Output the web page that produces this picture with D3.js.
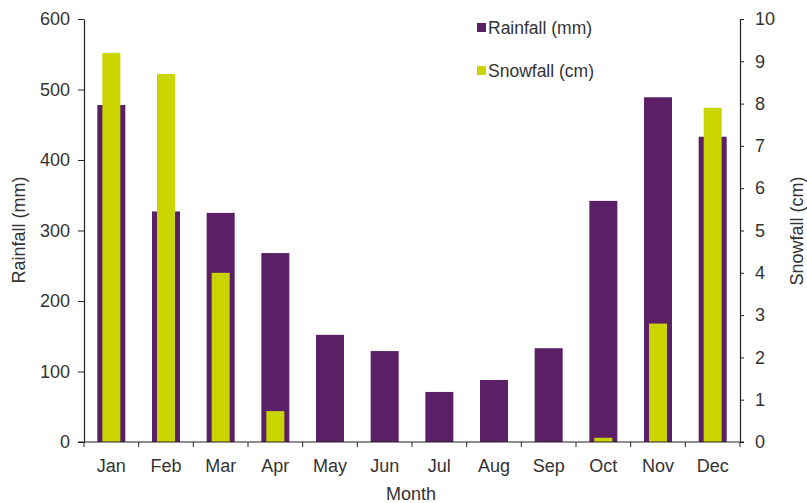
<!DOCTYPE html>
<html>
<head>
<meta charset="utf-8">
<script src="https://cdn.jsdelivr.net/npm/d3@7"></script>
<style>
  html, body { margin: 0; padding: 0; background: #fff; }
  svg text { font-family: "Liberation Sans", Arial, sans-serif; fill: #333; }
</style>
</head>
<body>
<svg id="chart" width="807" height="503"></svg>
<script>
// Monthly precipitation
const months = ["Jan","Feb","Mar","Apr","May","Jun","Jul","Aug","Sep","Oct","Nov","Dec"];
const rainfall = [478, 327, 325, 268, 152, 129, 71, 88, 133, 342, 489, 433];   // mm
const snowfall = [9.2, 8.7, 4.0, 0.73, 0, 0, 0, 0, 0, 0.1, 2.8, 7.9];         // cm
const rainTicks = [0, 100, 200, 300, 400, 500, 600];
const snowTicks = [0, 1, 2, 3, 4, 5, 6, 7, 8, 9, 10];

const rainColor = "#5b1f66";
const snowColor = "#cad500";
const fontSize = 18;

const svg = d3.select("#chart");
const plotL = 84, plotR = 740, plotT = 19, plotB = 442;

const x = d3.scaleBand().domain(months).range([plotL, plotR]).padding(0);
const yRain = d3.scaleLinear().domain([0, 600]).range([plotB, plotT]);
const ySnow = d3.scaleLinear().domain([0, 10]).range([plotB, plotT]);

const rainW = 28, snowW = 18;
const data = months.map((m, i) => ({ m, rain: rainfall[i], snow: snowfall[i] }));

// Rainfall bars (behind)
svg.append("g").selectAll("rect").data(data).join("rect")
  .attr("x", d => x(d.m) + x.bandwidth() / 2 - rainW / 2)
  .attr("width", rainW)
  .attr("y", d => yRain(d.rain))
  .attr("height", d => plotB - yRain(d.rain))
  .attr("fill", rainColor);

// Snowfall bars (in front, narrower)
svg.append("g").selectAll("rect").data(data.filter(d => d.snow > 0)).join("rect")
  .attr("x", d => x(d.m) + x.bandwidth() / 2 - snowW / 2)
  .attr("width", snowW)
  .attr("y", d => ySnow(d.snow))
  .attr("height", d => plotB - ySnow(d.snow))
  .attr("fill", snowColor);

// Axes
const axisStyle = g => {
  g.selectAll(".domain").attr("stroke", "#222").attr("stroke-width", 1.2);
  g.selectAll(".tick line").attr("stroke", "#222");
  g.selectAll(".tick text").attr("font-size", fontSize).attr("fill", "#333")
    .style("font-family", "'Liberation Sans', Arial, sans-serif");
};

svg.append("g").attr("transform", `translate(${plotL},0)`)
  .call(d3.axisLeft(yRain).tickValues(rainTicks).tickSize(6).tickSizeOuter(0).tickPadding(8))
  .call(axisStyle);

svg.append("g").attr("transform", `translate(${plotR},0)`)
  .call(d3.axisRight(ySnow).tickValues(snowTicks).tickSize(4).tickSizeOuter(0).tickPadding(11))
  .call(axisStyle);

// Category axis: ticks sit between months
const xAxis = svg.append("g").attr("transform", `translate(0,${plotB})`);
xAxis.append("line").attr("x1", plotL - 6).attr("x2", plotR + 4)
  .attr("y1", 0).attr("y2", 0).attr("stroke", "#222").attr("stroke-width", 1.2);
xAxis.selectAll("line.sep").data(d3.range(13)).join("line")
  .attr("class", "sep")
  .attr("x1", i => plotL + i * x.bandwidth()).attr("x2", i => plotL + i * x.bandwidth())
  .attr("y1", 0).attr("y2", 5).attr("stroke", "#222");
xAxis.selectAll("text").data(months).join("text")
  .attr("x", m => x(m) + x.bandwidth() / 2)
  .attr("y", 30)
  .attr("text-anchor", "middle")
  .attr("font-size", fontSize)
  .text(m => m);

// Axis titles
svg.append("text").attr("transform", "translate(25,230) rotate(-90)")
  .attr("text-anchor", "middle").attr("font-size", fontSize).text("Rainfall (mm)");
svg.append("text").attr("transform", "translate(803,231) rotate(-90)")
  .attr("text-anchor", "middle").attr("font-size", fontSize).text("Snowfall (cm)");
svg.append("text").attr("x", 411).attr("y", 500)
  .attr("text-anchor", "middle").attr("font-size", fontSize).text("Month");

// Legend
const legend = [
  { label: "Rainfall (mm)", color: rainColor, y: 34 },
  { label: "Snowfall (cm)", color: snowColor, y: 77 }
];
const lg = svg.append("g");
lg.selectAll("rect").data(legend).join("rect")
  .attr("x", 477).attr("y", d => d.y - 11).attr("width", 9).attr("height", 9)
  .attr("fill", d => d.color);
lg.selectAll("text").data(legend).join("text")
  .attr("x", 488).attr("y", d => d.y)
  .attr("font-size", 17.5).text(d => d.label);
</script>
</body>
</html>
